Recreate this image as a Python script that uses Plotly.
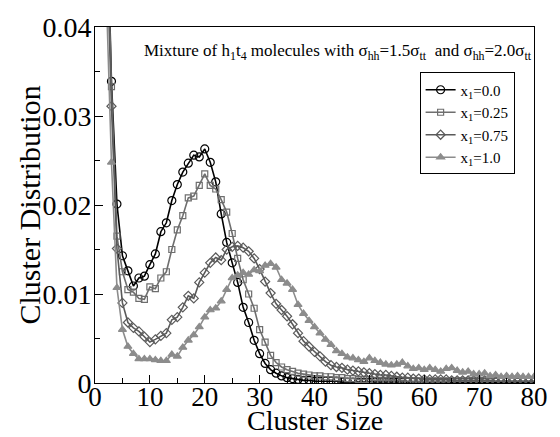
import plotly.graph_objects as go

cluster_size = list(range(2, 81))

dist_x0_00 = [0.058, 0.0339, 0.0201, 0.0143, 0.0126, 0.0109, 0.0118, 0.0120, 0.0133, 0.0145,
              0.0170, 0.0180, 0.0205, 0.0223, 0.0237, 0.0247, 0.0256, 0.0254, 0.0263, 0.0248,
              0.0226, 0.0190, 0.0158, 0.0135, 0.0113, 0.0085, 0.0068, 0.0048, 0.0033, 0.0022,
              0.0015, 0.0011, 0.0008, 0.0006, 0.0005, 0.0004, 0.0003, 0.0003, 0.0002, 0.0002,
              0.0002, 0.0002, 0.0002, 0.0001, 0.0001, 0.0001, 0.0001, 0.0001, 0.0001, 0.0001,
              0.0001, 0.0001, 0.0001, 0.0001, 0.0001, 0.0001, 0.0001, 0.0001, 0.0001, 0.0001,
              0.0001, 0.0001, 0.0001, 0.0001, 0.0001, 0.0001, 0.0001, 0.0001, 0.0001, 0.0001,
              0.0001, 0.0001, 0.0001, 0.0001, 0.0001, 0.0001, 0.0001, 0.0001, 0.0001]

dist_x0_25 = [0.056, 0.0333, 0.0165, 0.0125, 0.0105, 0.0102, 0.0095, 0.0094, 0.0108, 0.0106,
              0.0118, 0.0125, 0.0150, 0.0172, 0.0188, 0.0208, 0.0210, 0.0222, 0.0235, 0.0222,
              0.0218, 0.0206, 0.0192, 0.0168, 0.0140, 0.0116, 0.0100, 0.0084, 0.0060, 0.0046,
              0.0031, 0.0023, 0.0018, 0.0015, 0.0013, 0.0011, 0.0010, 0.0009, 0.0008, 0.0008,
              0.0007, 0.0007, 0.0006, 0.0006, 0.0005, 0.0005, 0.0004, 0.0004, 0.0004, 0.0003,
              0.0003, 0.0003, 0.0003, 0.0003, 0.0003, 0.0002, 0.0002, 0.0002, 0.0002, 0.0002,
              0.0002, 0.0002, 0.0002, 0.0002, 0.0002, 0.0002, 0.0002, 0.0002, 0.0002, 0.0002,
              0.0002, 0.0002, 0.0002, 0.0002, 0.0002, 0.0002, 0.0002, 0.0002, 0.0002]

dist_x0_75 = [0.052, 0.0311, 0.0151, 0.0090, 0.0068, 0.0062, 0.0058, 0.0052, 0.0046, 0.0049,
              0.0053, 0.0056, 0.0071, 0.0074, 0.0085, 0.0098, 0.0095, 0.0113, 0.0124, 0.0135,
              0.0141, 0.0138, 0.0150, 0.0153, 0.0154, 0.0152, 0.0148, 0.0140, 0.0128, 0.0114,
              0.0101, 0.0089, 0.0082, 0.0075, 0.0066, 0.0056, 0.0047, 0.0041, 0.0035, 0.0030,
              0.0024, 0.0020, 0.0018, 0.0017, 0.0015, 0.0014, 0.0013, 0.0012, 0.0011, 0.0010,
              0.0009, 0.0009, 0.0008, 0.0007, 0.0006, 0.0006, 0.0005, 0.0005, 0.0004, 0.0004,
              0.0004, 0.0004, 0.0004, 0.0003, 0.0003, 0.0003, 0.0003, 0.0003, 0.0003, 0.0003,
              0.0003, 0.0002, 0.0002, 0.0002, 0.0002, 0.0002, 0.0002, 0.0002, 0.0002]

dist_x1_00 = [0.045, 0.0248, 0.0107, 0.0060, 0.0041, 0.0033, 0.0027, 0.0027, 0.0027, 0.0026,
              0.0025, 0.0025, 0.0032, 0.0030, 0.0040, 0.0048, 0.0054, 0.0063, 0.0074, 0.0082,
              0.0084, 0.0092, 0.0105, 0.0118, 0.0121, 0.0124, 0.0122, 0.0127, 0.0126, 0.0132,
              0.0134, 0.0130, 0.0116, 0.0112, 0.0105, 0.0088, 0.0078, 0.0070, 0.0063, 0.0056,
              0.0049, 0.0043, 0.0036, 0.0033, 0.0029, 0.0028, 0.0026, 0.0024, 0.0028, 0.0025,
              0.0023, 0.0021, 0.0020, 0.0021, 0.0023, 0.0019, 0.0016, 0.0017, 0.0015, 0.0017,
              0.0015, 0.0013, 0.0016, 0.0017, 0.0014, 0.0012, 0.0013, 0.0010, 0.0010, 0.0011,
              0.0008, 0.0009, 0.0007, 0.0008, 0.0007, 0.0008, 0.0007, 0.0007, 0.0007]

series_names = ["x<sub>1</sub>=0.0", "x<sub>1</sub>=0.25", "x<sub>1</sub>=0.75", "x<sub>1</sub>=1.0"]
series_values = [dist_x0_00, dist_x0_25, dist_x0_75, dist_x1_00]
x_tick_vals = [0, 10, 20, 30, 40, 50, 60, 70, 80]
x_tick_labels = ["0", "10", "20", "30", "40", "50", "60", "70", "80"]
y_tick_vals = [0, 0.01, 0.02, 0.03, 0.04]
y_tick_labels = ["0", "0.01", "0.02", "0.03", "0.04"]

styles = [
    dict(color="#000000", symbol="circle-open", size=8, width=1.6),
    dict(color="#6e6e6e", symbol="square-open", size=6, width=1.6),
    dict(color="#5a5a5a", symbol="diamond-open", size=7, width=1.6),
    dict(color="#8c8c8c", symbol="triangle-up", size=7, width=1.6),
]

SERIF = "Liberation Serif, Times New Roman, serif"
L, R, T, B = 95, 16, 23, 54
PW, PH = 560 - L - R, 437 - T - B

fig = go.Figure()
for name, vals, st in zip(series_names, series_values, styles):
    fig.add_trace(go.Scatter(
        x=cluster_size, y=vals, name=name, mode="lines+markers",
        line=dict(color=st["color"], width=st["width"]),
        marker=dict(symbol=st["symbol"], size=st["size"], color=st["color"],
                    line=dict(color=st["color"], width=1.2)),
    ))

fig.update_layout(
    width=560, height=437,
    margin=dict(l=L, r=R, t=T, b=B),
    paper_bgcolor="white", plot_bgcolor="white",
    font=dict(family=SERIF, color="black"),
    showlegend=True,
    legend=dict(x=(427 - L) / PW, y=(T + PH - 69) / PH, xanchor="left", yanchor="top",
                bordercolor="black", borderwidth=1, bgcolor="white",
                font=dict(size=15, family=SERIF), tracegroupgap=0,
                itemwidth=30),
    annotations=[
        dict(text="Mixture of h<sub>1</sub>t<sub>4</sub> molecules with σ<sub>hh</sub>=1.5σ<sub>tt</sub>  and σ<sub>hh</sub>=2.0σ<sub>tt</sub>",
             x=(344 - L) / PW, y=(T + PH - 48) / PH, xref="paper", yref="paper", showarrow=False,
             font=dict(size=17, family=SERIF), xanchor="center", yanchor="middle"),
        dict(text="Cluster Size", x=0.5, y=-B / PH, xref="paper", yref="paper",
             showarrow=False, xanchor="center", yanchor="bottom", yshift=-2,
             font=dict(size=28, family=SERIF)),
        dict(text="Cluster Distribution", x=-(L - 27) / PW, y=0.5, xref="paper", yref="paper",
             showarrow=False, xanchor="center", yanchor="middle", textangle=-90,
             font=dict(size=30, family=SERIF)),
    ],
)

fig.update_xaxes(
    range=[0, 80], tickvals=x_tick_vals, ticktext=x_tick_labels,
    ticks="inside", ticklen=8, tickwidth=1, tickcolor="black",
    minor=dict(ticks="inside", ticklen=5, dtick=5, tickcolor="black"),
    showline=True, linecolor="black", linewidth=1, mirror=True,
    showgrid=False, zeroline=False, ticklabeloverflow="allow",
    ticklabelstandoff=-10,
    tickfont=dict(size=27, family=SERIF),
)
fig.update_yaxes(
    range=[0, 0.04], tickvals=y_tick_vals, ticktext=y_tick_labels,
    ticks="inside", ticklen=8, tickwidth=1, tickcolor="black",
    minor=dict(ticks="inside", ticklen=5, dtick=0.005, tickcolor="black"),
    showline=True, linecolor="black", linewidth=1, mirror=True,
    showgrid=False, zeroline=False, ticklabeloverflow="allow",
    ticklabelstandoff=-3,
    tickfont=dict(size=28, family=SERIF),
)

fig.write_html("out.html", config={"displayModeBar": False},
               post_script="document.body.style.margin='0';document.body.style.overflow='hidden';")
